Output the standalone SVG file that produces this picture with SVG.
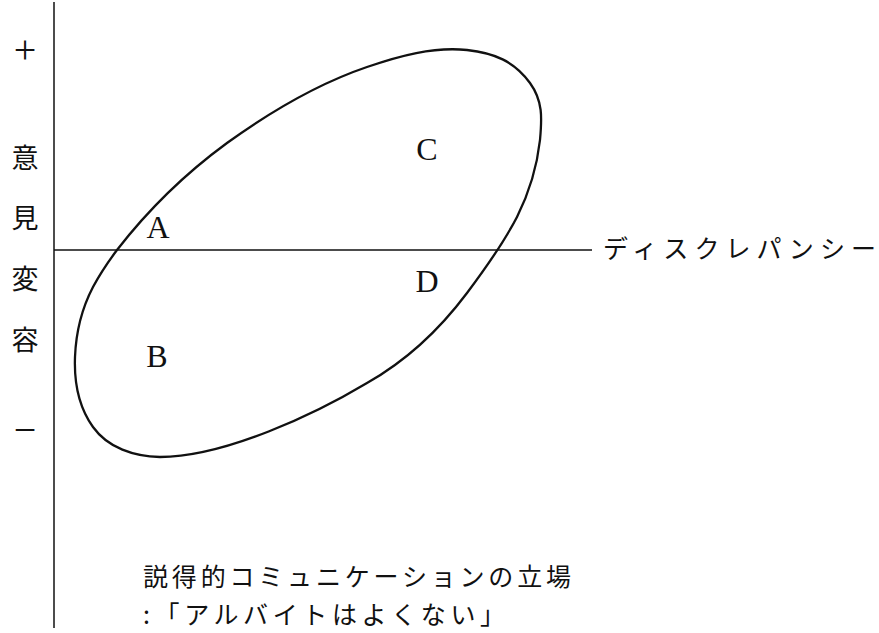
<svg xmlns="http://www.w3.org/2000/svg" width="879" height="633" viewBox="0 0 879 633">
<style>
.axis{stroke:#111;stroke-width:1.5;fill:none}
.ell{stroke:#111;stroke-width:2.3;fill:none}
.lat{font-family:"Liberation Serif","Times New Roman",serif;font-size:32px;fill:#111;text-anchor:middle}
.jp{font-family:"Noto Sans CJK JP","Noto Sans CJK SC",sans-serif;fill:#111}
.vl{font-size:27px;text-anchor:middle}
.sym{font-family:"Liberation Serif",serif;font-size:40px;fill:#111;text-anchor:middle}
</style>
<rect width="879" height="633" fill="#fff"/>
<g id="axes">
<line class="axis" x1="54" y1="2" x2="54" y2="628"/>
<line class="axis" x1="54" y1="250" x2="592" y2="250"/>
</g>
<g id="ellipse">
<path class="ell" d="M117,250 C148,210 186,173 227,143 C270,112 317,84 367,67 C399,56 433,46.5 467,50 C494,53 514,61 530,83 C543,101 542,118 540,140 C537,167 529,193 517,217 C503,244 485,269 467,293 C440,329 406,361 367,383 C315.6,413.8 225,457 160,457 C134,456.5 108,448 93,427 C78,406 74,383 75,357 C76,331 81,310 93,287 C100,274 108,262 117,250 Z"/>
</g>
<g id="label-A"><text class="lat" x="158" y="238">A</text></g>
<g id="label-B"><text class="lat" x="157" y="367">B</text></g>
<g id="label-C"><text class="lat" x="427" y="160">C</text></g>
<g id="label-D"><text class="lat" x="427" y="292">D</text></g>
<g id="y-axis-label">
<text class="sym" x="25" y="63">+</text>
<text class="jp vl" x="25" y="168">意</text>
<text class="jp vl" x="25" y="228">見</text>
<text class="jp vl" x="25" y="289">変</text>
<text class="jp vl" x="25" y="350">容</text>
<text class="sym" x="25" y="443">−</text>
</g>
<g id="x-axis-label">
<text class="jp" x="603" y="258" font-size="25" textLength="273" lengthAdjust="spacing">ディスクレパンシー</text>
</g>
<g id="caption">
<text class="jp" x="143" y="586" font-size="25" textLength="428" lengthAdjust="spacing">説得的コミュニケーションの立場</text>
<text class="jp" x="143" y="624" font-size="25" textLength="362" lengthAdjust="spacing">:「アルバイトはよくない」</text>
</g>
</svg>
